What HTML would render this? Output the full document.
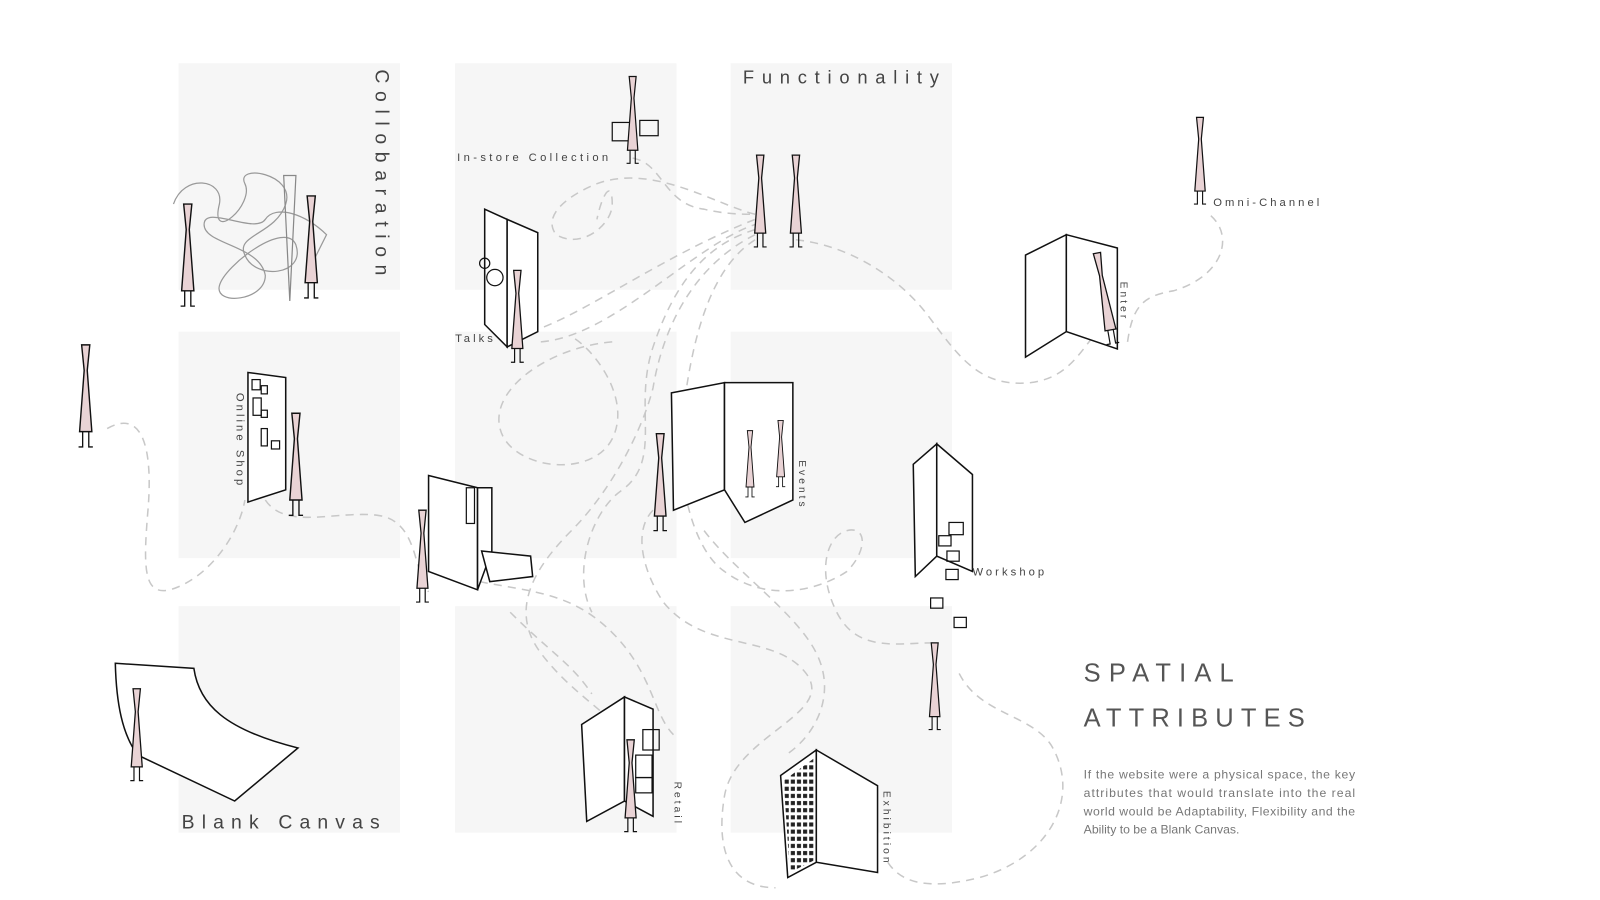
<!DOCTYPE html>
<html><head><meta charset="utf-8"><style>
html,body{margin:0;padding:0;background:#fff;}
svg{display:block;}
text{font-family:"Liberation Sans",sans-serif;}
</style></head><body>
<svg width="1600" height="900" viewBox="0 0 1568 882" xmlns="http://www.w3.org/2000/svg">
<defs>
<g id="fig">
<path d="M-4,0 L4,0 L1.5,25 L6,85 L-6,85 L-1.5,25 Z" fill="#e9d3d5" stroke="#111" stroke-width="1.4"/>
<path d="M-3,85 L-3,100 L-7,100 M3,85 L3,100 L7,100" fill="none" stroke="#111" stroke-width="1.3"/>
</g>
<pattern id="grid" width="6" height="7" patternUnits="userSpaceOnUse">
<rect x="1" y="1" width="4" height="4" fill="#222"/>
</pattern>
</defs>
<rect width="1568" height="882" fill="#fff"/>
<g fill="#f6f6f6">
<rect x="175" y="62" width="217" height="222"/><rect x="446" y="62" width="217" height="222"/><rect x="716" y="62" width="217" height="222"/>
<rect x="175" y="325" width="217" height="222"/><rect x="446" y="325" width="217" height="222"/><rect x="716" y="325" width="217" height="222"/>
<rect x="175" y="594" width="217" height="222"/><rect x="446" y="594" width="217" height="222"/><rect x="716" y="594" width="217" height="222"/>
</g>
<g fill="none" stroke="#c8c8c8" stroke-width="1.5" stroke-dasharray="8 6">
<path d="M105,420 C140,400 150,440 145,500 C140,560 140,590 175,575 C210,560 235,520 240,490"/>
<path d="M260,490 C280,520 330,500 370,505 C410,510 405,560 420,580"/>
<path d="M620,155 C650,160 650,200 690,205 C710,210 730,210 740,210"/>
<path d="M740,210 C700,200 640,160 585,180 C560,190 530,210 545,230 C570,245 600,220 600,200 C600,175 590,190 585,215"/>
<path d="M520,325 C570,310 650,250 740,215"/>
<path d="M530,335 C600,330 680,240 740,220"/>
<path d="M740,225 C690,240 660,280 640,340 C620,400 650,450 610,480 C580,500 560,560 580,600"/>
<path d="M740,230 C680,260 650,320 640,380 C630,420 600,480 560,520 C520,560 500,600 530,640 C560,680 600,700 615,725"/>
<path d="M600,335 C540,340 480,380 490,420 C500,460 580,470 600,430 C620,390 580,340 560,330"/>
<path d="M740,235 C700,260 680,320 670,400 C660,470 680,540 710,560 C750,590 800,580 830,560 C850,540 850,515 830,520 C810,525 800,560 820,600 C840,640 880,630 915,630"/>
<path d="M640,500 C620,520 630,560 650,590 C690,640 760,620 790,660 C820,700 720,720 710,780 C700,840 720,870 760,870"/>
<path d="M780,235 C830,240 880,270 910,310 C940,350 960,380 1010,375 C1050,370 1060,340 1080,320"/>
<path d="M1105,335 C1110,300 1120,290 1150,285 C1200,270 1210,230 1185,210"/>
<path d="M690,520 C720,560 780,600 800,640 C820,680 800,720 770,740"/>
<path d="M940,660 C960,700 1010,700 1030,730 C1060,780 1030,840 960,860 C900,875 880,860 870,845"/>
<path d="M500,600 C540,640 560,650 580,680"/>
<path d="M470,570 C520,580 560,580 600,620 C640,660 640,700 660,720"/>
</g>
<g fill="none" stroke="#999" stroke-width="1.2">
<path d="M170,200 C180,170 220,175 215,200 C205,240 250,200 240,180 C230,160 290,170 280,200 C270,230 230,230 240,250 C250,275 300,270 290,240 C280,215 220,260 215,280 C210,300 260,295 260,270 C255,240 200,240 200,220 C200,200 250,230 260,215 C270,200 300,210 320,230 L305,260"/>
<path d="M278,172 L284,295 L290,172 Z" stroke="#888"/>
</g>
<g fill="#fff" stroke="#111" stroke-width="1.5">
<path d="M475,205 L497,215 L497,340 L475,318 Z"/><path d="M497,215 L527,228 L527,325 L497,340 Z"/>
<path d="M243,365 L280,370 L280,480 L243,492 Z"/>
<path d="M420,466 L468,478 L468,578 L420,560 Z"/><path d="M468,478 L482,478 L482,540 L468,578 Z"/>
<path d="M658,385 L710,375 L710,480 L660,500 Z"/><path d="M710,375 L777,375 L777,490 L730,512 L710,480 Z"/>
<path d="M1005,250 L1045,230 L1045,325 L1005,350 Z"/><path d="M1045,230 L1095,243 L1095,342 L1045,325 Z"/>
<path d="M895,455 L918,435 L918,545 L897,565 Z"/><path d="M918,435 L953,465 L953,560 L918,545 Z"/>
<path d="M570,710 L612,683 L612,785 L575,805 Z"/><path d="M612,683 L640,695 L640,800 L612,785 Z"/>
<path d="M765,760 L800,735 L800,845 L772,860 Z"/><path d="M800,735 L860,770 L860,855 L800,845 Z"/>
<path d="M113,650 L190,655 C195,690 220,715 292,733 L230,785 L135,740 C120,720 114,690 113,650 Z"/>
<path d="M472,540 L520,545 L522,565 L480,570 Z"/>
</g>
<path d="M768,765 L798,743 L798,843 L774,855 Z" fill="url(#grid)"/>
<g fill="none" stroke="#111" stroke-width="1.2">
<rect x="247" y="372" width="8" height="10"/><rect x="256" y="378" width="6" height="8"/><rect x="248" y="390" width="8" height="17"/><rect x="256" y="402" width="6" height="7"/><rect x="256" y="420" width="6" height="17"/><rect x="266" y="432" width="8" height="8"/>
<rect x="457" y="478" width="8" height="35"/><rect x="623" y="740" width="16" height="22"/><rect x="623" y="762" width="16" height="15"/><rect x="630" y="715" width="16" height="20"/>
<rect x="920" y="525" width="12" height="10"/><rect x="930" y="512" width="14" height="12"/><rect x="928" y="540" width="12" height="10"/><rect x="927" y="558" width="12" height="10"/><rect x="912" y="586" width="12" height="10"/><rect x="935" y="605" width="12" height="10"/>
<circle cx="475" cy="258" r="5"/><circle cx="485" cy="272" r="8"/>
<rect x="600" y="120" width="20" height="18"/><rect x="627" y="118" width="18" height="15"/>
</g>
<use href="#fig" transform="translate(84,338)"/>
<use href="#fig" transform="translate(184,200)"/>
<use href="#fig" transform="translate(305,192)"/>
<use href="#fig" transform="translate(290,405)"/>
<use href="#fig" transform="translate(620,75) scale(0.85)"/>
<use href="#fig" transform="translate(507,265) scale(0.9)"/>
<use href="#fig" transform="translate(745,152) scale(0.9)"/>
<use href="#fig" transform="translate(780,152) scale(0.9)"/>
<use href="#fig" transform="translate(1176,115) scale(0.85)"/>
<use href="#fig" transform="translate(1075,248) scale(0.9) rotate(-10)"/>
<use href="#fig" transform="translate(647,425) scale(0.95)"/>
<use href="#fig" transform="translate(735,422) scale(0.65)"/>
<use href="#fig" transform="translate(765,412) scale(0.65)"/>
<use href="#fig" transform="translate(414,500) scale(0.9)"/>
<use href="#fig" transform="translate(916,630) scale(0.85)"/>
<use href="#fig" transform="translate(618,725) scale(0.9)"/>
<use href="#fig" transform="translate(134,675) scale(0.9)"/>
<g fill="#444">
<text x="728" y="82" font-size="18" letter-spacing="7.6">Functionality</text>
<text transform="translate(368,68) rotate(90)" font-size="19" letter-spacing="7.5">Collobaration</text>
<text x="178" y="812" font-size="19" letter-spacing="7">Blank Canvas</text>
<text x="448" y="158" font-size="11" letter-spacing="3.3">In-store Collection</text>
<text x="446" y="335" font-size="11" letter-spacing="3">Talks</text>
<text x="1189" y="202" font-size="11" letter-spacing="3">Omni-Channel</text>
<text transform="translate(1098,276) rotate(90)" font-size="10" letter-spacing="3">Enter</text>
<text transform="translate(232,385) rotate(90)" font-size="11" letter-spacing="3">Online Shop</text>
<text transform="translate(783,451) rotate(90)" font-size="10" letter-spacing="3">Events</text>
<text x="953" y="564" font-size="11" letter-spacing="3">Workshop</text>
<text transform="translate(661,766) rotate(90)" font-size="10" letter-spacing="3">Retail</text>
<text transform="translate(866,775) rotate(90)" font-size="10" letter-spacing="3">Exhibition</text>
<text x="1062" y="668" font-size="25" letter-spacing="8" fill="#555">SPATIAL</text>
<text x="1062" y="712" font-size="25" letter-spacing="7" fill="#555">ATTRIBUTES</text>
<g font-size="12" fill="#777">
<text x="1062" y="763" textLength="266" lengthAdjust="spacing">If the website were a physical space, the key</text>
<text x="1062" y="781" textLength="266" lengthAdjust="spacing">attributes that would translate into the real</text>
<text x="1062" y="799" textLength="266" lengthAdjust="spacing">world would be Adaptability, Flexibility and the</text>
<text x="1062" y="817">Ability to be a Blank Canvas.</text>
</g>
</g>
</svg>
</body></html>
